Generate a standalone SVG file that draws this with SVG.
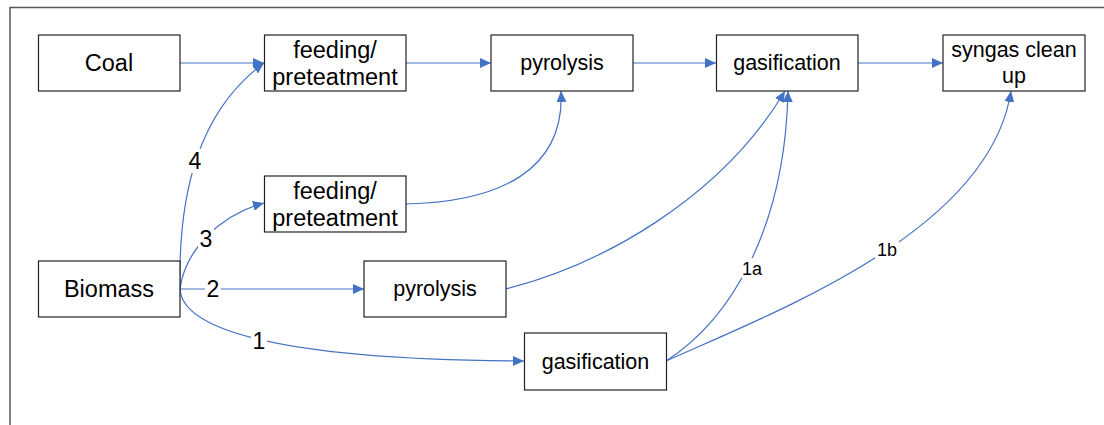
<svg xmlns="http://www.w3.org/2000/svg" width="1104" height="425" viewBox="0 0 1104 425">
<defs>
<marker id="ah" markerUnits="userSpaceOnUse" markerWidth="12" markerHeight="10" refX="11" refY="5" orient="auto">
<path d="M0,0 L11,5 L0,10 Z" fill="#4472C4"/>
</marker>
<style>
.box{fill:#fff;stroke:#222;stroke-width:1.2}
.t{font-family:"Liberation Sans",Arial,sans-serif;fill:#000;text-anchor:middle}
.big{font-size:23.5px}
.mid{font-size:21.5px}
.c{fill:none;stroke:#4472C4;stroke-width:1.2}
.ca{fill:none;stroke:#4472C4;stroke-width:1.2;marker-end:url(#ah)}
.lb{fill:#fff}
.lt{font-family:"Liberation Sans",Arial,sans-serif;fill:#000;text-anchor:middle;font-size:23px}
.ls{font-family:"Liberation Sans",Arial,sans-serif;fill:#000;text-anchor:middle;font-size:18px}
</style>
</defs>
<rect width="1104" height="425" fill="#fff"/>
<g id="frame">
<path d="M10,425 L10,7.5 L1104,7.5" fill="none" stroke="#555" stroke-width="1.5"/>
</g>
<g id="connectors">
<path class="ca" d="M180,63 L264,63"/>
<path class="ca" d="M406,63 L491,63"/>
<path class="ca" d="M633,63 L716,63"/>
<path class="ca" d="M858,63 L943,63"/>
<path class="ca" d="M180,289 C178,190 200,110 264,63"/>
<path class="ca" d="M180,289 C185,250 220,215 264,203"/>
<path class="ca" d="M180,289 L364,289"/>
<path class="ca" d="M180,289 C182,325 260,360 524,361"/>
<path class="ca" d="M406,204 C500,202 565,170 561,91"/>
<path class="ca" d="M506,289 C600,265 720,200 785,91"/>
<path class="ca" d="M666,361 C730,320 785,230 788,91"/>
<path class="ca" d="M666,361 C780,310 990,230 1011,91"/>
<rect class="lb" x="187" y="149" width="16" height="24"/>
<text class="lt" x="195" y="169">4</text>
<rect class="lb" x="198" y="227" width="16" height="24"/>
<text class="lt" x="206" y="247">3</text>
<rect class="lb" x="205" y="277" width="16" height="24"/>
<text class="lt" x="213" y="297">2</text>
<rect class="lb" x="251" y="329" width="16" height="24"/>
<text class="lt" x="259" y="349">1</text>
<rect class="lb" x="740" y="258" width="24" height="20"/>
<text class="ls" x="752" y="274.5">1a</text>
<rect class="lb" x="875" y="239" width="24" height="20"/>
<text class="ls" x="887" y="255.5">1b</text>
</g>
<g id="coal">
<rect class="box" x="38.5" y="35" width="141.5" height="56"/>
<text class="t big" x="109" y="71">Coal</text>
</g>
<g id="feeding-top">
<rect class="box" x="264.5" y="35" width="141.5" height="56"/>
<text class="t big" x="335" y="57.5">feeding/</text>
<text class="t big" x="335" y="84.5">preteatment</text>
</g>
<g id="pyrolysis-top">
<rect class="box" x="491" y="35" width="142" height="56"/>
<text class="t mid" x="562" y="70">pyrolysis</text>
</g>
<g id="gasification-top">
<rect class="box" x="716.5" y="35" width="141.5" height="56"/>
<text class="t mid" x="787" y="70">gasification</text>
</g>
<g id="syngas">
<rect class="box" x="943" y="35" width="142" height="56"/>
<text class="t mid" x="1014" y="57">syngas clean</text>
<text class="t mid" x="1014" y="83">up</text>
</g>
<g id="feeding-mid">
<rect class="box" x="264.5" y="176" width="141.5" height="56"/>
<text class="t big" x="335" y="198.5">feeding/</text>
<text class="t big" x="335" y="225.5">preteatment</text>
</g>
<g id="biomass">
<rect class="box" x="38.5" y="261" width="141.5" height="56"/>
<text class="t big" x="109" y="297">Biomass</text>
</g>
<g id="pyrolysis-bottom">
<rect class="box" x="364" y="261" width="142" height="56"/>
<text class="t mid" x="435" y="296">pyrolysis</text>
</g>
<g id="gasification-bottom">
<rect class="box" x="524.5" y="333" width="142" height="57"/>
<text class="t mid" x="595.5" y="368.5">gasification</text>
</g>
</svg>
